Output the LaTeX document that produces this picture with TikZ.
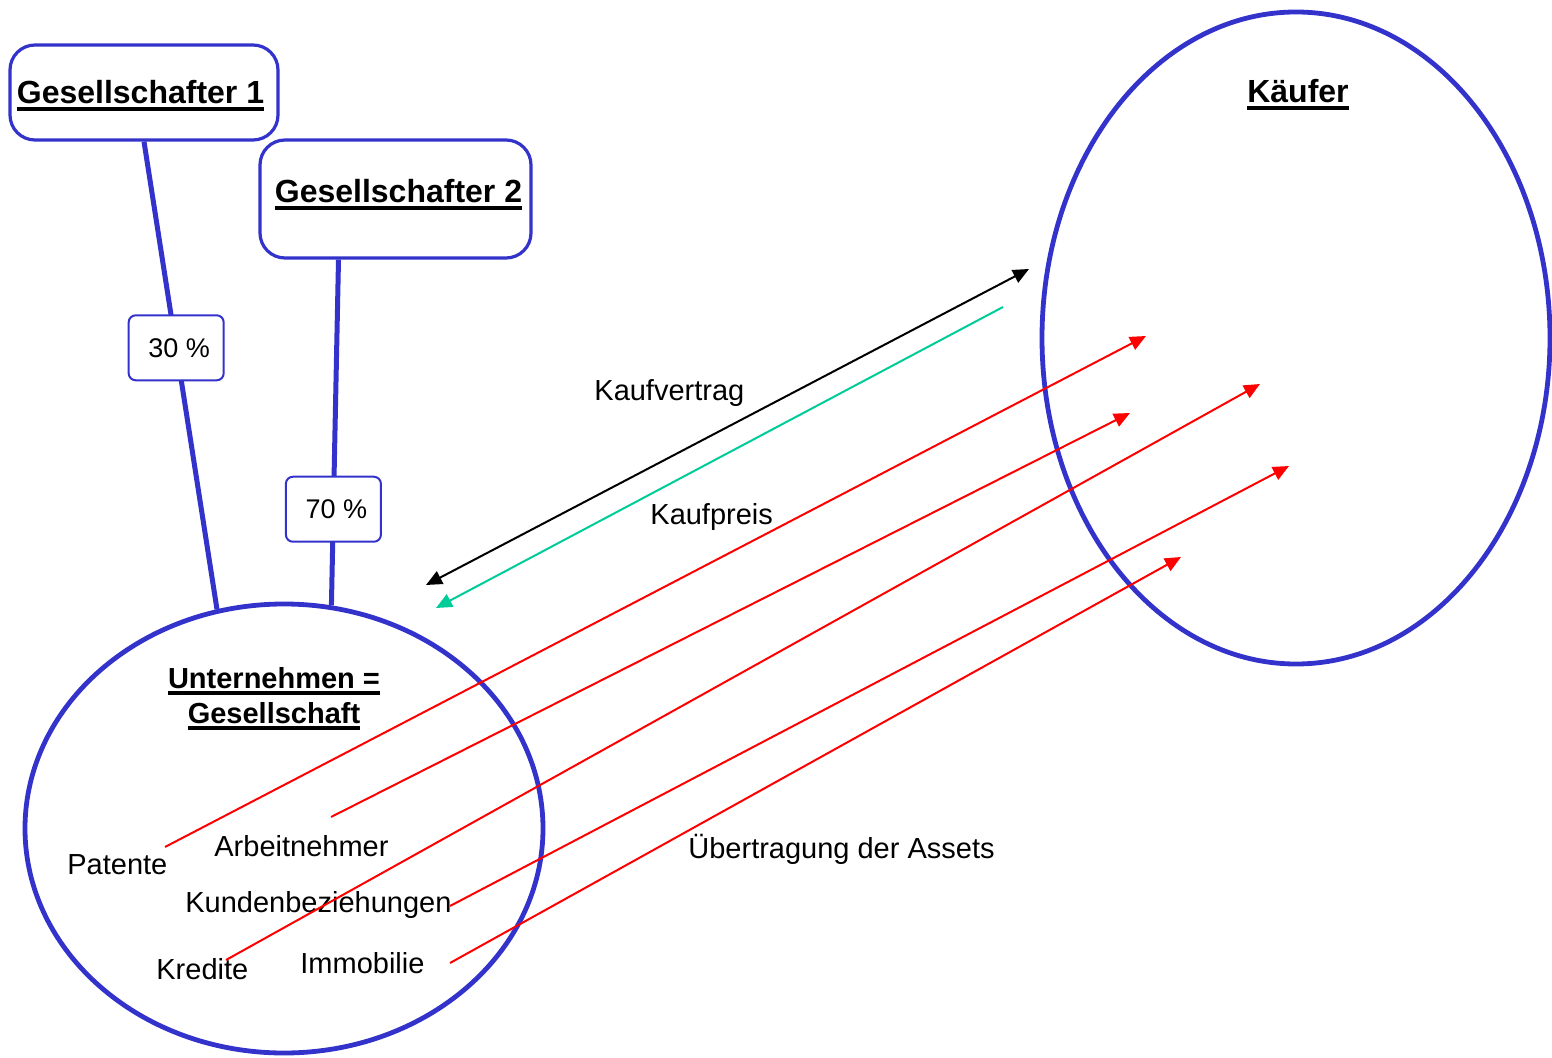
\documentclass[tikz,border=0pt]{standalone}
\usepackage{fontspec}
\setmainfont{Liberation Sans}
\usetikzlibrary{arrows.meta,shapes.geometric}
\definecolor{ownblue}{RGB}{51,51,204}
\definecolor{paygreen}{RGB}{0,204,153}
\newsavebox{\ulsave}
\newcommand{\ulbold}[1]{\sbox{\ulsave}{\bfseries #1}\leavevmode\rlap{\rule[-3.3pt]{\wd\ulsave}{1.6pt}}\usebox{\ulsave}}
\begin{document}
\begin{tikzpicture}[x=0.5pt,y=-0.5pt,
  >={Triangle[length=8pt,width=7pt]},
  partner/.style={draw=ownblue, line width=1.6pt, fill=white, rounded corners=12.5pt, inner sep=0pt, font=\fontsize{16}{19}\selectfont},
  share/.style={draw=ownblue, line width=1pt, fill=white, rounded corners=3.5pt, minimum width=47.5pt, minimum height=32.5pt, inner sep=0pt, text height=9.7pt, text depth=0pt, font=\fontsize{13.5}{16}\selectfont},
  party/.style={ellipse, draw=ownblue, line width=2.4pt, inner sep=0pt},
  own/.style={draw=ownblue, line width=2.5pt},
  lbl/.style={font=\fontsize{14.5}{17.5}\selectfont, inner sep=0pt, anchor=base west},
  asset/.style={->, red, line width=1pt},
]
\useasboundingbox (0,0) rectangle (1552,1058);

% parties
\node[party, minimum width=259pt, minimum height=224.5pt] (u) at (284,828.5) {};
\node[party, minimum width=254pt, minimum height=326pt] (k) at (1296,338) {};

% shareholders
\node[partner, minimum width=134pt, minimum height=47.5pt, text height=11.5pt, text depth=0pt] (g1) at (144,92.5) {\hspace*{-3.5pt}\ulbold{Gesellschafter 1}};
\node[partner, minimum width=135.5pt, minimum height=59pt, text height=11.5pt, text depth=7.5pt] (g2) at (395.5,199) {\ulbold{Gesellschafter 2}\hspace*{-3pt}};

\draw[own] (g1.south) -- node[share, pos=0.441] (p30) {\hspace*{3pt}30 \%} (u.107.4);
\draw[own] ([xshift=-28.5pt]g2.south) -- node[share, pos=0.722] (p70) {\hspace*{3pt}70 \%} (u.78.6);

% titles
\node[inner sep=0pt, anchor=base, font=\fontsize{16}{19}\selectfont] (kt) at (1298,103) {\ulbold{Käufer}};
\node[inner sep=0pt, anchor=base, font=\fontsize{14.5}{17.5}\selectfont] (ut) at (274,688)
  {\begin{tabular}[t]{@{}c@{}}\ulbold{Unternehmen =}\\\ulbold{Gesellschaft}\end{tabular}};

% contract and price
\coordinate (cL) at (426,585);
\coordinate (cR) at (1029,269);
\draw[<->, line width=1pt] (cL) -- (cR);
\coordinate (pR) at (1003,307);
\coordinate (pL) at (436,608);
\draw[->, paygreen, line width=1pt] (pR) -- (pL);
\node[lbl] (kv) at (594,401) {Kaufvertrag};
\node[lbl] (kp) at (650,525) {Kaufpreis};

% assets
\node[lbl] (pa) at (67,874) {Patente};
\node[lbl] (ar) at (214,856) {Arbeitnehmer};
\node[lbl] (ku) at (185,912) {Kundenbeziehungen};
\node[lbl] (kr) at (156,979) {Kredite};
\node[lbl] (im) at (300,973) {Immobilie};
\node[lbl] (ue) at (688,858) {Übertragung der Assets};

\coordinate (a1) at (165,847);  \coordinate (t1) at (1146,336);
\coordinate (a2) at (331,817);  \coordinate (t2) at (1130,413);
\coordinate (a3) at (226,960);  \coordinate (t3) at (1260,384);
\coordinate (a4) at (450,906);  \coordinate (t4) at (1289,466);
\coordinate (a5) at (450,963);  \coordinate (t5) at (1181,557);
\draw[asset] (a1) -- (t1);
\draw[asset] (a2) -- (t2);
\draw[asset] (a3) -- (t3);
\draw[asset] (a4) -- (t4);
\draw[asset] (a5) -- (t5);
\end{tikzpicture}
\end{document}
